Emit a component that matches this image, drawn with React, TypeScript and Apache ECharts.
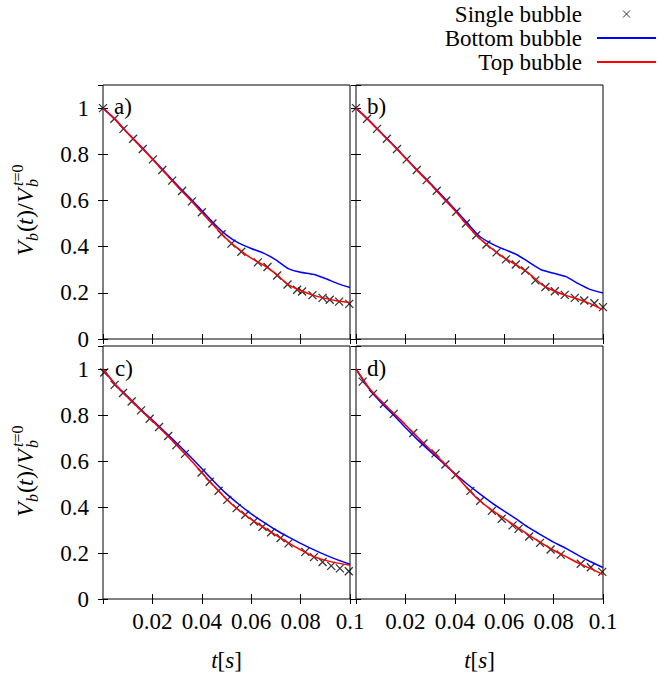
import React, { useEffect, useRef } from 'react';
import * as echarts from 'echarts';

const FONT = 'Liberation Serif, Tinos, Times New Roman, DejaVu Serif, serif';
const XPATH = 'path://M0,0L10,10M0,10L10,0';

// time grid of the simulated curves
const tLine = [0, 0.005, 0.01, 0.015, 0.02, 0.025, 0.03, 0.035, 0.04, 0.045, 0.05, 0.055, 0.06, 0.065, 0.07, 0.075, 0.08, 0.085, 0.09, 0.095, 0.1];

// panel a
const blueA = [1.0, 0.95, 0.892, 0.838, 0.781, 0.724, 0.667, 0.613, 0.556, 0.499, 0.45, 0.415, 0.392, 0.372, 0.343, 0.305, 0.289, 0.28, 0.262, 0.24, 0.223];
const redA = [1.0, 0.95, 0.891, 0.836, 0.779, 0.721, 0.662, 0.606, 0.548, 0.49, 0.434, 0.388, 0.35, 0.32, 0.282, 0.235, 0.21, 0.19, 0.176, 0.165, 0.158];
const singleAX = [0, 0.0046, 0.0083, 0.0122, 0.0161, 0.0202, 0.024, 0.028, 0.032, 0.036, 0.04, 0.0443, 0.048, 0.052, 0.056, 0.0627, 0.0666, 0.0705, 0.0747, 0.0786, 0.0806, 0.0848, 0.0889, 0.0918, 0.0956, 0.0997];
const singleAY = [1.0, 0.954, 0.91, 0.867, 0.823, 0.778, 0.732, 0.686, 0.641, 0.596, 0.549, 0.5, 0.454, 0.413, 0.378, 0.332, 0.312, 0.275, 0.236, 0.213, 0.206, 0.19, 0.178, 0.17, 0.162, 0.152];

// panel b
const blueB = [1.0, 0.95, 0.895, 0.841, 0.785, 0.729, 0.675, 0.619, 0.562, 0.503, 0.445, 0.412, 0.388, 0.366, 0.333, 0.3, 0.285, 0.27, 0.24, 0.214, 0.199];
const redB = [1.0, 0.949, 0.894, 0.84, 0.784, 0.727, 0.672, 0.614, 0.557, 0.493, 0.436, 0.391, 0.351, 0.32, 0.284, 0.238, 0.209, 0.189, 0.172, 0.152, 0.127];
const singleBX = [0, 0.0045, 0.0085, 0.0125, 0.0166, 0.0205, 0.0246, 0.0286, 0.0327, 0.0365, 0.0406, 0.0445, 0.0487, 0.0528, 0.0569, 0.0607, 0.0647, 0.0685, 0.0726, 0.0767, 0.0805, 0.0845, 0.0886, 0.0924, 0.0965, 0.1];
const singleBY = [1.0, 0.954, 0.91, 0.867, 0.823, 0.778, 0.732, 0.688, 0.642, 0.599, 0.551, 0.5, 0.449, 0.409, 0.375, 0.345, 0.323, 0.297, 0.254, 0.225, 0.207, 0.191, 0.178, 0.167, 0.155, 0.138];

// panel c
const blueC = [1.0, 0.933, 0.88, 0.827, 0.778, 0.727, 0.676, 0.623, 0.567, 0.51, 0.457, 0.412, 0.37, 0.334, 0.3, 0.27, 0.242, 0.216, 0.192, 0.17, 0.151];
const redC = [1.0, 0.932, 0.878, 0.824, 0.774, 0.722, 0.667, 0.61, 0.55, 0.49, 0.434, 0.386, 0.346, 0.311, 0.278, 0.244, 0.214, 0.186, 0.168, 0.156, 0.147];
const singleCX = [0.0005, 0.0047, 0.0081, 0.0116, 0.0154, 0.0189, 0.0227, 0.0264, 0.0297, 0.0332, 0.0399, 0.0432, 0.0468, 0.0503, 0.0541, 0.0576, 0.0611, 0.0646, 0.0681, 0.0719, 0.0751, 0.0819, 0.0854, 0.0889, 0.0924, 0.0959, 0.0995];
const singleCY = [0.985, 0.931, 0.896, 0.859, 0.82, 0.784, 0.748, 0.709, 0.669, 0.631, 0.55, 0.51, 0.471, 0.431, 0.395, 0.366, 0.337, 0.314, 0.29, 0.265, 0.242, 0.205, 0.182, 0.161, 0.144, 0.133, 0.121];

// panel d
const blueD = [1.0, 0.918, 0.856, 0.802, 0.746, 0.692, 0.642, 0.594, 0.545, 0.5, 0.458, 0.418, 0.382, 0.347, 0.31, 0.278, 0.247, 0.22, 0.19, 0.162, 0.137];
const redD = [1.0, 0.922, 0.862, 0.81, 0.758, 0.703, 0.65, 0.598, 0.544, 0.482, 0.428, 0.386, 0.35, 0.314, 0.278, 0.244, 0.212, 0.184, 0.156, 0.132, 0.106];
const singleDX = [0.0027, 0.0069, 0.0113, 0.0153, 0.0232, 0.0273, 0.0322, 0.0362, 0.0403, 0.0463, 0.0503, 0.055, 0.059, 0.0634, 0.0658, 0.0701, 0.0745, 0.0788, 0.0829, 0.091, 0.0951, 0.0997];
const singleDY = [0.945, 0.892, 0.849, 0.805, 0.722, 0.676, 0.633, 0.585, 0.539, 0.47, 0.427, 0.383, 0.349, 0.32, 0.305, 0.272, 0.244, 0.215, 0.193, 0.153, 0.138, 0.118];

const panelLabels = ['a)', 'b)', 'c)', 'd)'];
const seriesNames = ['Single bubble', 'Bottom bubble', 'Top bubble'];

const panels = [
  { sx: singleAX, sy: singleAY, blue: blueA, red: redA },
  { sx: singleBX, sy: singleBY, blue: blueB, red: redB },
  { sx: singleCX, sy: singleCY, blue: blueC, red: redC },
  { sx: singleDX, sy: singleDY, blue: blueD, red: redD },
];

const gridBoxes = [
  { left: 103, top: 85, width: 247, height: 254 },
  { left: 356, top: 85, width: 247, height: 254 },
  { left: 103, top: 346, width: 247, height: 253 },
  { left: 356, top: 346, width: 247, height: 253 },
];

const labelPos = [
  [114, 106],
  [367, 106],
  [115, 368],
  [367, 368],
];

function txt(x: number, y: number, text: string, size: number, italic: boolean) {
  return {
    type: 'text',
    x,
    y,
    style: {
      text,
      fontFamily: FONT,
      fontSize: size,
      fontStyle: italic ? 'italic' : 'normal',
      fill: '#000',
      verticalAlign: 'middle',
      align: 'left',
    },
  };
}

function yLabel(cx: number, bottomY: number) {
  return {
    type: 'group',
    x: cx,
    y: bottomY,
    rotation: Math.PI / 2,
    children: [
      txt(0, 0, 'V', 24, true),
      txt(15, 7, 'b', 16, true),
      txt(24, 0, '(', 24, false),
      txt(31, 0, 't', 24, true),
      txt(38, 0, ')', 24, false),
      txt(46, 0, '/', 24, false),
      txt(53, 0, 'V', 24, true),
      txt(69, 7, 'b', 16, true),
      {
        type: 'text',
        x: 70,
        y: -8,
        style: {
          text: '{i|t}=0',
          rich: { i: { fontStyle: 'italic', fontFamily: FONT, fontSize: 16, fill: '#000' } },
          fontFamily: FONT,
          fontSize: 16,
          fill: '#000',
          verticalAlign: 'middle',
          align: 'left',
        },
      },
    ],
  };
}

function xLabel(cx: number, cy: number) {
  return {
    type: 'text',
    x: cx,
    y: cy,
    style: {
      text: '{i|t}[{i|s}]',
      rich: { i: { fontStyle: 'italic', fontFamily: FONT, fontSize: 23, fill: '#000' } },
      fontFamily: FONT,
      fontSize: 23,
      fill: '#000',
      align: 'center',
      verticalAlign: 'middle',
    },
  };
}

export default function App() {
  const ref = useRef<HTMLDivElement>(null);
  useEffect(() => {
    if (!ref.current) return;
    const chart = echarts.init(ref.current, undefined, { renderer: 'svg' });

    const tick = { show: true, inside: true, length: 5, lineStyle: { color: '#000', width: 1 } };
    const xAxes: any[] = [];
    const yAxes: any[] = [];
    const series: any[] = [];

    gridBoxes.forEach((_, i) => {
      const showX = i >= 2;
      const showY = i % 2 === 0;
      const xBase = {
        type: 'value',
        gridIndex: i,
        min: 0,
        max: 0.1,
        interval: 0.02,
        axisLine: { show: false },
        axisTick: tick,
        splitLine: { show: false },
      };
      const yBase = {
        type: 'value',
        gridIndex: i,
        min: 0,
        max: 1.1,
        interval: 0.2,
        axisLine: { show: false },
        axisTick: tick,
        splitLine: { show: false },
      };
      xAxes.push({
        ...xBase,
        position: 'bottom',
        axisLabel: {
          show: showX,
          fontFamily: FONT,
          fontSize: 23,
          color: '#000',
          margin: 11,
          showMinLabel: false,
          formatter: (v: number) => (v < 1e-9 ? '' : String(+v.toFixed(2))),
        },
      });
      xAxes.push({ ...xBase, position: 'top', axisLabel: { show: false } });
      yAxes.push({
        ...yBase,
        position: 'left',
        axisLabel: {
          show: showY,
          fontFamily: FONT,
          fontSize: 23,
          color: '#000',
          margin: 14,
          showMaxLabel: false,
          formatter: (v: number) => (v > 1.05 ? '' : String(+v.toFixed(1))),
        },
      });
      yAxes.push({ ...yBase, position: 'right', axisLabel: { show: false } });

      const p = panels[i];
      series.push({
        type: 'scatter',
        name: seriesNames[0],
        xAxisIndex: 2 * i,
        yAxisIndex: 2 * i,
        data: p.sx.map((x, k) => [x, p.sy[k]]),
        symbol: XPATH,
        symbolSize: 8,
        clip: false,
        itemStyle: { color: '#000', borderColor: '#000', borderWidth: 1.3 },
        z: 2,
      });
      series.push({
        type: 'line',
        name: seriesNames[1],
        xAxisIndex: 2 * i,
        yAxisIndex: 2 * i,
        data: tLine.map((t, k) => [t, p.blue[k]]),
        symbol: 'none',
        showSymbol: false,
        smooth: 0.2,
        lineStyle: { color: '#0000ff', width: 1.5 },
        itemStyle: { color: '#0000ff' },
        z: 3,
      });
      series.push({
        type: 'line',
        name: seriesNames[2],
        xAxisIndex: 2 * i,
        yAxisIndex: 2 * i,
        data: tLine.map((t, k) => [t, p.red[k]]),
        symbol: 'none',
        showSymbol: false,
        smooth: 0.2,
        lineStyle: { color: '#ff0000', width: 1.5 },
        itemStyle: { color: '#ff0000' },
        z: 4,
      });
    });

    const graphics: any[] = [];
    panelLabels.forEach((lab, i) => {
      graphics.push({
        type: 'text',
        x: labelPos[i][0],
        y: labelPos[i][1],
        style: { text: lab, fontFamily: FONT, fontSize: 23, fill: '#000', verticalAlign: 'middle', align: 'left' },
        z: 10,
      });
    });
    graphics.push(yLabel(25, 256));
    graphics.push(yLabel(25, 517));
    graphics.push(xLabel(226.5, 660));
    graphics.push(xLabel(479.5, 660));

    chart.setOption({
      animation: false,
      backgroundColor: '#fff',
      textStyle: { fontFamily: FONT },
      grid: gridBoxes.map((g) => ({
        ...g,
        show: true,
        borderColor: '#000',
        borderWidth: 1,
        backgroundColor: 'transparent',
      })),
      xAxis: xAxes,
      yAxis: yAxes,
      legend: {
        orient: 'vertical',
        right: 2,
        top: 2,
        align: 'right',
        itemWidth: 59,
        itemHeight: 7,
        itemGap: 0,
        padding: 0,
        selectedMode: false,
        textStyle: { fontFamily: FONT, fontSize: 23, color: '#000', lineHeight: 24, padding: [0, 10, 0, 0] },
        data: [
          { name: seriesNames[0], icon: XPATH, itemStyle: { color: '#000', borderColor: '#000', borderWidth: 1 } },
          { name: seriesNames[1], itemStyle: { opacity: 0 } },
          { name: seriesNames[2], itemStyle: { opacity: 0 } },
        ],
      },
      graphic: graphics,
      series,
    });
    return () => chart.dispose();
  }, []);
  return <div ref={ref} style={{ position: 'fixed', left: 0, top: 0, width: 659, height: 675 }} />;
}
